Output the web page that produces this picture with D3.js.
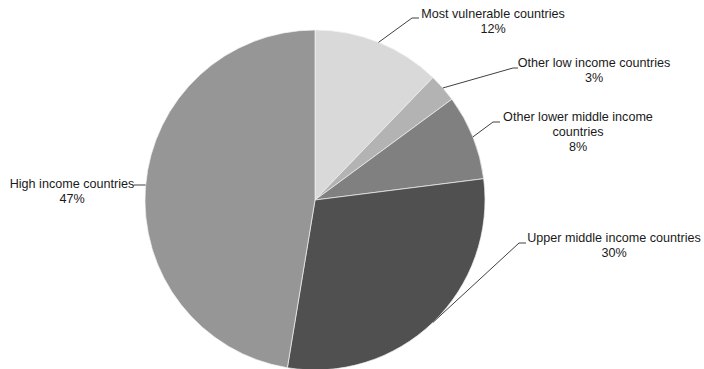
<!DOCTYPE html>
<html>
<head>
<meta charset="utf-8">
<script src="https://cdn.jsdelivr.net/npm/d3@7"></script>
<style>
  html, body { margin: 0; padding: 0; background: #fff; }
  #chart { width: 704px; height: 369px; }
</style>
</head>
<body>
<div id="chart"></div>
<script>
// slices, clockwise from 12 o'clock
const categories = [
    "Most vulnerable countries",
    "Other low income countries",
    "Other lower middle income countries",
    "Upper middle income countries",
    "High income countries"
];
const shares = [12.2, 2.7, 8.1, 29.6, 47.4];
const fills = ["#d9d9d9", "#b3b3b3", "#808080", "#505050", "#969696"];

// how each label is broken into lines
const labelLines = [
    ["Most vulnerable countries"],
    ["Other low income countries"],
    ["Other lower middle income", "countries"],
    ["Upper middle income countries"],
    ["High income countries"]
];

// label layout: text centre x, first line centre y, elbow x/y of the leader
const labelLayout = [
    { x: 493, y: 14, ex: 412, ey: 18, ax: 419 },
    { x: 594, y: 63, ex: 513, ey: 68, ax: 518 },
    { x: 578, y: 117, ex: 493, ey: 122, ax: 500 },
    { x: 614, y: 238, ex: 519, ey: 243, ax: 526 },
    { x: 72, y: 184, ex: 145, ey: 185, ax: 134 }
];

function drawPie() {
    const width = 704;
    const height = 369;
    const cx = 315;
    const cy = 200;
    const radius = 170;

    const svg = d3.select("#chart")
        .append("svg")
        .attr("width", width)
        .attr("height", height)
        .attr("viewBox", `0 0 ${width} ${height}`);

    const g = svg.append("g")
        .attr("transform", `translate(${cx},${cy})`);

    const data = categories.map((c, i) => ({ name: c, value: shares[i], i: i }));

    const pie = d3.pie()
        .value(d => d.value)
        .sort(null);

    const arc = d3.arc()
        .innerRadius(0)
        .outerRadius(radius);

    const arcs = pie(data);
    const total = d3.sum(shares);
    const pct = d3.format(".0%");

    g.selectAll("path.slice")
        .data(arcs)
        .enter()
        .append("path")
        .attr("class", "slice")
        .attr("d", arc)
        .attr("fill", d => fills[d.data.i])
        .attr("stroke", "#f2f2f2")
        .attr("stroke-width", 0.7);

    // leader lines start on the rim at the slice mid angle
    const rimPoint = d => {
        const a = (d.startAngle + d.endAngle) / 2;
        return [cx + radius * Math.sin(a), cy - radius * Math.cos(a)];
    };

    svg.selectAll("polyline.leader")
        .data(arcs)
        .enter()
        .append("polyline")
        .attr("class", "leader")
        .attr("points", d => {
            const L = labelLayout[d.data.i];
            const p = rimPoint(d);
            if (d.data.i === 4) {
                return [[p[0], L.ey], [L.ax, L.ey]].map(q => q.join(",")).join(" ");
            }
            return [p, [L.ex, L.ey], [L.ax, L.ey]].map(q => q.join(",")).join(" ");
        })
        .attr("fill", "none")
        .attr("stroke", "#404040")
        .attr("stroke-width", 1);

    const labels = svg.selectAll("text.label")
        .data(arcs)
        .enter()
        .append("text")
        .attr("class", "label")
        .attr("text-anchor", "middle")
        .style("font-family", "Liberation Sans, Arial, sans-serif")
        .style("font-size", "12.6px")
        .style("fill", "#1a1a1a");

    labels.each(function(d) {
        const L = labelLayout[d.data.i];
        const lines = labelLines[d.data.i].concat([pct(d.data.value / total)]);
        const t = d3.select(this);
        lines.forEach((s, k) => {
            t.append("tspan")
                .attr("x", L.x)
                .attr("y", L.y + k * 15)
                .attr("dy", "0.35em")
                .text(s);
        });
    });
}

drawPie();
</script>
</body>
</html>
